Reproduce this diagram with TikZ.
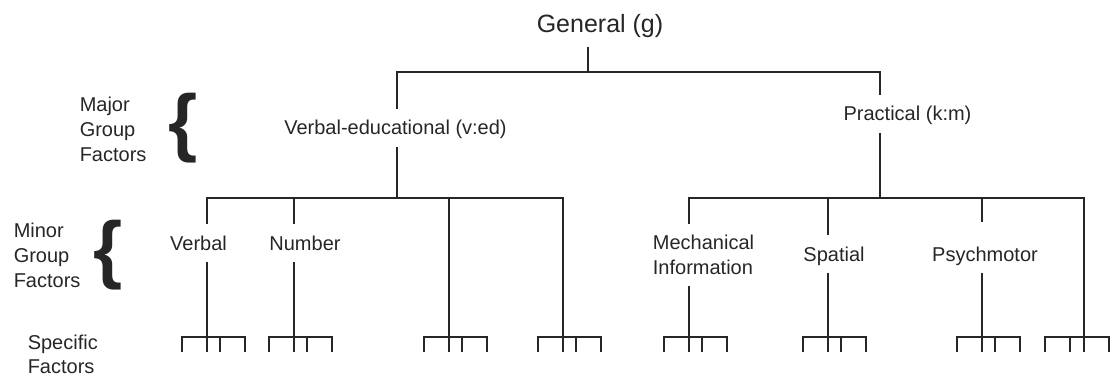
\documentclass[tikz,border=0pt]{standalone}
\usepackage{fontspec}
\setmainfont{Liberation Sans}
\begin{document}
\begin{tikzpicture}[x=1pt, y=-1pt, line width=1.5pt, color=black!85,
  lbl/.style={font=\fontsize{20}{25}\selectfont, inner xsep=0pt, inner ysep=11pt, text height=14pt, text depth=0pt},
  lbltwo/.style={font=\fontsize{20}{25}\selectfont, align=left, inner xsep=0pt, inner ysep=10.5pt},
  side/.style={font=\fontsize{20}{25}\selectfont, align=left, inner sep=0pt, anchor=north west},
  brc/.style={font=\fontsize{75}{75}\selectfont\bfseries, inner sep=0pt, anchor=base west}]
\useasboundingbox (0,0) rectangle (1113,377);

% levels on the left
\node[side] (major) at (79,96) {Major\\Group\\Factors};
\node[brc] (majbrace) at (168,147) {\{};
\node[side] (minor) at (13,222) {Minor\\Group\\Factors};
\node[brc] (minbrace) at (93,274) {\{};
\node[side, font=\fontsize{20}{24}\selectfont] (spec) at (27,334) {Specific\\Factors};

% factors
\node[lbl, font=\fontsize{25}{30}\selectfont, text height=18pt, inner ysep=13pt] (g) at (600,24) {General (g)};
\node[lbl] (vered) at (395.5,128) {Verbal-educational (v:ed)};
\node[lbl] (prac) at (907.5,114) {Practical (k:m)};
\node[lbl] (verbal) at (198.5,243) {Verbal};
\node[lbl] (number) at (305,243) {Number};
\node[lbltwo] (mech) at (703.5,255) {Mechanical\\Information};
\node[lbl] (spatial) at (834,254) {Spatial};
\node[lbl] (psych) at (985,254) {Psychmotor};

% junctions
\coordinate (jg) at (588,72);
\coordinate (jv) at (397,72);
\coordinate (jp) at (880,72);
\foreach \i/\x in {1/207,2/294,3/449,4/563,5/689,6/828,7/880,8/982,9/1084}
{
    \coordinate (j\i) at (\x,198);
    \coordinate (f\i) at (\x,337);
}

% g -> major groups
\draw (g.south -| jg)--(jg);
\draw (vered.north -| jv)|-(jp)--(prac.north -| jp);

% major -> minor groups
\draw (vered.south -| jv)--(jv |- j1);
\draw (prac.south -| jp)--(j7);
\draw (verbal.north -| j1)|-(j4)--(f4);
\draw (mech.north -| j5)|-(j9)--(f9);
\draw (j2)--(number.north -| j2);
\draw (j3)--(f3);
\draw (j6)--(spatial.north -| j6);
\draw[shorten >=13pt] (j8)--(psych.north -| j8);

% minor -> specific
\draw (verbal.south -| j1)--(f1);
\draw (number.south -| j2)--(f2);
\draw (mech.south -| j5)--(f5);
\draw (spatial.south -| j6)--(f6);
\draw (psych.south -| j8)--(f8);

% specific factors
\foreach \i in {1,2,3,4,5,6,8}
{
    \draw (f\i)++(-25,15)|-++(63,-15)--++(0,15);
    \draw (f\i)--++(0,15) (f\i)++(13,0)--++(0,15);
}
\draw (f9)++(-39,15)|-++(64,-15)--++(0,15);
\draw (f9)--++(0,15) (f9)++(-14,0)--++(0,15);

\end{tikzpicture}
\end{document}
